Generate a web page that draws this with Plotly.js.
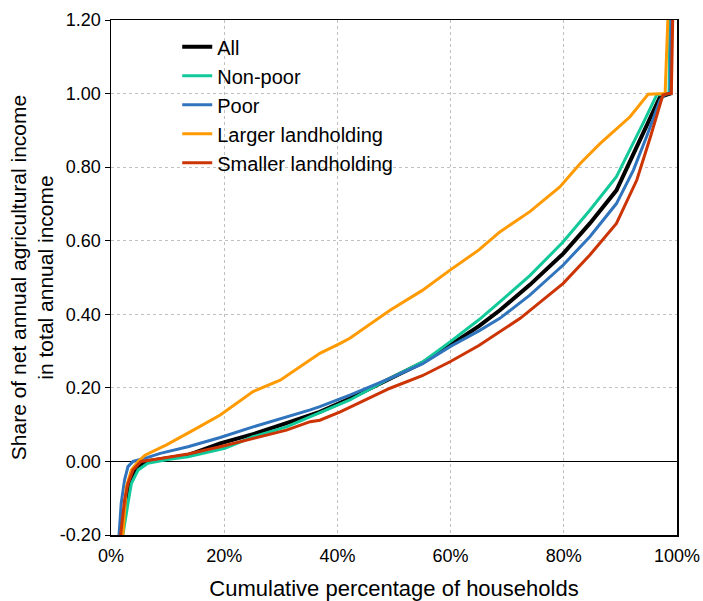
<!DOCTYPE html>
<html>
<head>
<meta charset="utf-8">
<script src="https://cdn.plot.ly/plotly-3.0.1.min.js"></script>
<style>html,body{margin:0;padding:0;background:#fff;}</style>
</head>
<body>
<div id="chart" style="width:703px;height:601px;"></div>
<script>
// Series names
const seriesNames = ["All", "Non-poor", "Poor", "Larger landholding", "Smaller landholding"];
const seriesColors = ["#000000", "#12c99a", "#2f74bd", "#ff9a00", "#cc3404"];
const seriesWidths = [4, 3, 3, 3, 3];

// Cumulative share of households (fraction) and share of agricultural income
const allX = [0.016, 0.019, 0.027, 0.033, 0.045, 0.062, 0.100, 0.136, 0.193, 0.251, 0.310, 0.352, 0.369, 0.422, 0.493, 0.550, 0.599, 0.650, 0.687, 0.740, 0.799, 0.846, 0.893, 0.917, 0.940, 0.970, 0.985, 0.988, 0.990];
const allY = [-0.26, -0.20, -0.105, -0.06, -0.02, 0.000, 0.009, 0.017, 0.049, 0.074, 0.104, 0.126, 0.135, 0.171, 0.226, 0.268, 0.316, 0.368, 0.411, 0.480, 0.565, 0.647, 0.737, 0.819, 0.892, 0.991, 1.000, 1.000, 1.250];

const nonPoorX = [0.018, 0.021, 0.030, 0.036, 0.048, 0.065, 0.100, 0.136, 0.201, 0.251, 0.310, 0.352, 0.369, 0.422, 0.493, 0.550, 0.599, 0.650, 0.687, 0.740, 0.799, 0.846, 0.893, 0.917, 0.940, 0.964, 0.982, 0.986, 0.988];
const nonPoorY = [-0.26, -0.20, -0.114, -0.06, -0.023, -0.005, 0.005, 0.013, 0.036, 0.067, 0.094, 0.121, 0.131, 0.167, 0.226, 0.270, 0.325, 0.385, 0.434, 0.505, 0.597, 0.683, 0.774, 0.846, 0.919, 0.996, 1.000, 1.000, 1.250];

const poorX = [0.013, 0.014, 0.018, 0.024, 0.030, 0.039, 0.065, 0.087, 0.136, 0.193, 0.251, 0.310, 0.352, 0.369, 0.422, 0.493, 0.550, 0.599, 0.650, 0.687, 0.740, 0.799, 0.846, 0.893, 0.923, 0.946, 0.970, 0.980, 0.988, 0.990];
const poorY = [-0.26, -0.205, -0.114, -0.05, -0.014, 0.000, 0.011, 0.022, 0.040, 0.065, 0.094, 0.120, 0.140, 0.149, 0.180, 0.226, 0.265, 0.312, 0.355, 0.389, 0.452, 0.534, 0.611, 0.701, 0.792, 0.882, 0.982, 1.000, 1.000, 1.250];

const largerX = [0.017, 0.021, 0.027, 0.036, 0.048, 0.060, 0.098, 0.136, 0.151, 0.193, 0.251, 0.299, 0.334, 0.369, 0.405, 0.422, 0.493, 0.550, 0.599, 0.650, 0.687, 0.740, 0.793, 0.829, 0.864, 0.917, 0.949, 0.965, 0.979, 0.985];
const largerY = [-0.26, -0.20, -0.07, -0.023, 0.000, 0.017, 0.045, 0.076, 0.090, 0.126, 0.190, 0.221, 0.257, 0.294, 0.321, 0.335, 0.411, 0.465, 0.520, 0.575, 0.624, 0.679, 0.746, 0.810, 0.864, 0.937, 0.998, 1.000, 1.000, 1.250];

const smallerX = [0.015, 0.017, 0.024, 0.030, 0.039, 0.053, 0.071, 0.136, 0.193, 0.251, 0.310, 0.352, 0.369, 0.405, 0.493, 0.550, 0.599, 0.650, 0.687, 0.723, 0.799, 0.846, 0.893, 0.929, 0.953, 0.975, 0.985, 0.990, 0.993];
const smallerY = [-0.26, -0.20, -0.105, -0.06, -0.023, 0.000, 0.004, 0.020, 0.040, 0.063, 0.085, 0.108, 0.112, 0.135, 0.199, 0.233, 0.271, 0.315, 0.352, 0.389, 0.484, 0.561, 0.647, 0.765, 0.882, 0.996, 1.000, 1.000, 1.250];

// Axis ticks
const xTickVals = [0, 0.2, 0.4, 0.6, 0.8, 1.0];
const xTickText = ["0%", "20%", "40%", "60%", "80%", "100%"];
const yTickVals = [-0.2, 0, 0.2, 0.4, 0.6, 0.8, 1.0, 1.2];
const yTickText = ["-0.20", "0.00", "0.20", "0.40", "0.60", "0.80", "1.00", "1.20"];

const xs = [allX, nonPoorX, poorX, largerX, smallerX];
const ys = [allY, nonPoorY, poorY, largerY, smallerY];

const traces = seriesNames.map((n, i) => ({
  type: "scatter", mode: "lines", name: n, x: xs[i], y: ys[i],
  line: {color: seriesColors[i], width: seriesWidths[i]},
  cliponaxis: true
}));

const font = "Liberation Sans, Arial, sans-serif";
const yMin = -0.2, yMax = 1.2;
const zeroPos = (0 - yMin) / (yMax - yMin);

const layout = {
  width: 703, height: 601,
  margin: {l: 111, r: 26, t: 20, b: 66},
  paper_bgcolor: "#ffffff", plot_bgcolor: "#ffffff",
  font: {family: font, size: 18, color: "#000"},
  showlegend: true,
  legend: {
    x: 0.117, y: 0.986, xanchor: "left", yanchor: "top",
    bgcolor: "rgba(0,0,0,0)", font: {size: 20, family: font, color: "#000"},
    traceorder: "normal"
  },
  xaxis: {
    range: [0, 1], tickvals: xTickVals, ticktext: xTickText,
    showgrid: true, gridcolor: "#c0c0c0", griddash: "dot", gridwidth: 1,
    showline: true, linecolor: "#000", linewidth: 1.5, mirror: true,
    ticks: "", zeroline: false, ticklabelstandoff: 4,
    tickfont: {size: 18, family: font},
    title: {text: "Cumulative percentage of households", font: {size: 22, family: font}, standoff: 20}
  },
  xaxis2: {
    overlaying: "x", anchor: "free", position: zeroPos, side: "bottom",
    range: [0, 1], tickvals: xTickVals, showticklabels: false,
    showgrid: false, zeroline: false, showline: false,
    ticks: "outside", ticklen: 5, tickcolor: "#000", tickwidth: 1
  },
  xaxis3: {
    overlaying: "x", anchor: "free", position: zeroPos, side: "top",
    range: [0, 1], tickvals: xTickVals, showticklabels: false,
    showgrid: false, zeroline: false, showline: false,
    ticks: "outside", ticklen: 5, tickcolor: "#000", tickwidth: 1
  },
  yaxis: {
    range: [yMin, yMax], tickvals: yTickVals, ticktext: yTickText,
    showgrid: true, gridcolor: "#c0c0c0", griddash: "dot", gridwidth: 1,
    zeroline: true, zerolinecolor: "#000", zerolinewidth: 1.5,
    showline: true, linecolor: "#000", linewidth: 1.5, mirror: true,
    ticks: "outside", ticklen: 5, tickcolor: "#000",
    tickfont: {size: 18, family: font},
    title: {text: "Share of net annual agricultural income<br>in total annual income", font: {size: 21, family: font}, standoff: 0}
  }
};

Plotly.newPlot("chart", traces, layout, {displayModeBar: false, staticPlot: true});
</script>
</body>
</html>
